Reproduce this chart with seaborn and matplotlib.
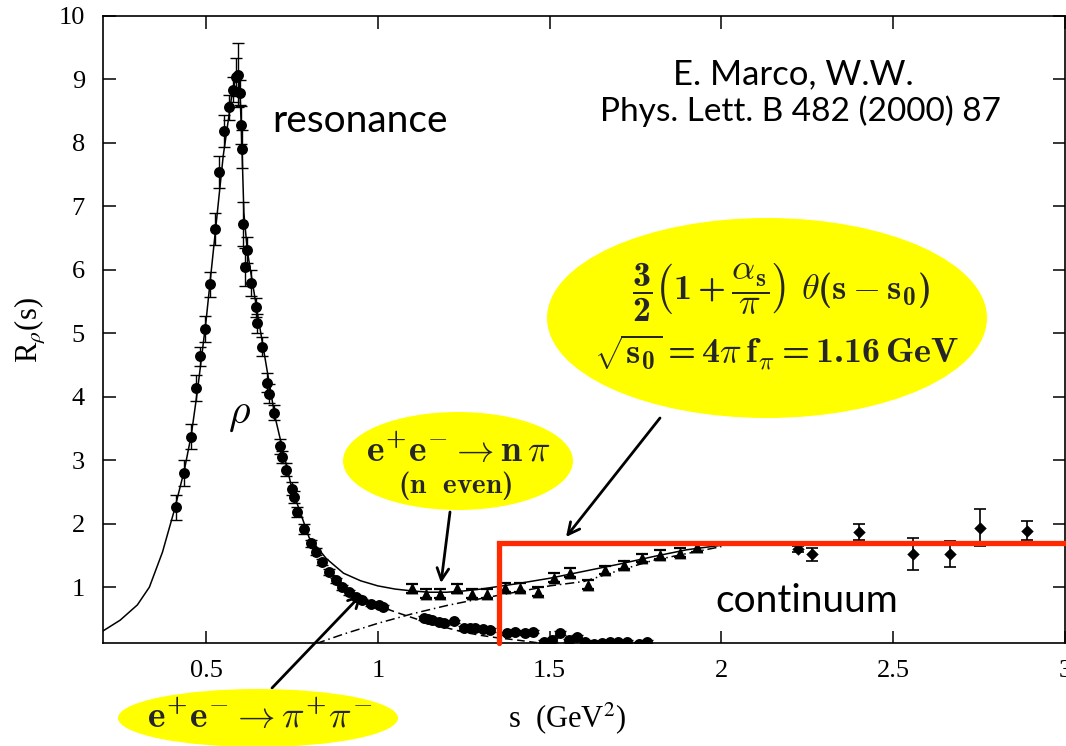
import numpy as np
import pandas as pd
import matplotlib
matplotlib.use('Agg')
import matplotlib.pyplot as plt
import seaborn as sns
from matplotlib.patches import Ellipse

# ---------------- data ----------------
# e+e- -> pi+ pi- data (circles)
pipi_s = [0.413, 0.437, 0.457, 0.470, 0.483, 0.497, 0.512, 0.525, 0.538, 0.553,
          0.567, 0.579, 0.588, 0.594, 0.598, 0.603, 0.604, 0.608, 0.613, 0.620,
          0.630, 0.646, 0.649, 0.664, 0.678, 0.683, 0.698, 0.715, 0.722, 0.732,
          0.751, 0.756, 0.765, 0.785, 0.804, 0.819, 0.838, 0.858, 0.877, 0.896,
          0.915, 0.935, 0.954, 0.979, 1.003, 1.015,
          1.134, 1.147, 1.158, 1.177, 1.192, 1.221, 1.250, 1.267, 1.284, 1.305,
          1.325, 1.376, 1.400, 1.429, 1.453, 1.483, 1.507, 1.531, 1.555, 1.580,
          1.604, 1.628, 1.652, 1.676, 1.700, 1.725, 1.759, 1.783]
pipi_R = [2.26, 2.80, 3.37, 4.14, 4.64, 5.07, 5.77, 6.64, 7.54, 8.19,
          8.56, 8.84, 9.04, 9.07, 8.79, 8.28, 7.90, 6.72, 6.05, 6.31,
          5.79, 5.41, 5.16, 4.79, 4.22, 4.05, 3.75, 3.22, 3.05, 2.85,
          2.55, 2.42, 2.19, 1.92, 1.69, 1.56, 1.40, 1.24, 1.11, 1.00,
          0.92, 0.85, 0.79, 0.74, 0.72, 0.69,
          0.51, 0.50, 0.48, 0.45, 0.43, 0.46, 0.36, 0.36, 0.35, 0.34,
          0.33, 0.27, 0.30, 0.28, 0.30, 0.14, 0.17, 0.28, 0.16, 0.22,
          0.14, 0.10, 0.12, 0.13, 0.13, 0.13, 0.11, 0.14]
pipi_err = [0.20, 0.20, 0.20, 0.20, 0.15, 0.20, 0.20, 0.25, 0.25, 0.25,
            0.20, 0.20, 0.30, 0.50, 0.20, 0.30, 0.30, 0.35, 0.30, 0.20,
            0.20, 0.15, 0.15, 0.15, 0.15, 0.15, 0.12, 0.12, 0.10, 0.10,
            0.10, 0.10, 0.08, 0.08, 0.06, 0.05, 0.05, 0.05, 0.04, 0.04,
            0.04, 0.03, 0.03, 0.03, 0.03, 0.03,
            0.03, 0.03, 0.03, 0.03, 0.03, 0.03, 0.03, 0.03, 0.03, 0.03,
            0.03, 0.03, 0.03, 0.03, 0.03, 0.03, 0.03, 0.03, 0.03, 0.03,
            0.03, 0.03, 0.03, 0.03, 0.03, 0.03, 0.03, 0.03]

# e+e- -> n pi (n even) data (triangles)
npi_s = [1.100, 1.140, 1.182, 1.230, 1.274, 1.318, 1.369, 1.415, 1.465, 1.512,
         1.560, 1.611, 1.662, 1.715, 1.768, 1.822, 1.878, 1.930]
npi_R = [0.98, 0.90, 0.90, 0.98, 0.90, 0.90, 0.99, 0.99, 0.93, 1.15,
         1.23, 1.04, 1.27, 1.35, 1.46, 1.51, 1.54, 1.63]
npi_err = [0.07] * len(npi_s)

# high-energy data (diamonds)
hi_s = [2.224, 2.265, 2.399, 2.559, 2.665, 2.752, 2.890]
hi_R = [1.60, 1.52, 1.87, 1.52, 1.52, 1.94, 1.89]
hi_err = [0.05, 0.10, 0.12, 0.25, 0.20, 0.29, 0.15]

# full fit curve (solid)
fit_s = [0.20, 0.25, 0.30, 0.335, 0.373, 0.407, 0.437, 0.457, 0.475, 0.50,
         0.525, 0.55, 0.575, 0.59, 0.597, 0.603, 0.61, 0.62, 0.65, 0.70,
         0.75, 0.80, 0.85, 0.90, 0.95, 1.00, 1.05, 1.10, 1.15, 1.20,
         1.25, 1.30, 1.35, 1.40, 1.50, 1.60, 1.70, 1.80, 1.90, 2.00]
fit_R = [0.31, 0.48, 0.72, 1.00, 1.55, 2.20, 2.85, 3.40, 4.10, 5.20,
         6.50, 7.80, 8.75, 9.10, 9.00, 8.20, 6.90, 6.30, 5.30, 3.70,
         2.55, 1.78, 1.45, 1.22, 1.10, 1.02, 0.97, 0.94, 0.92, 0.92,
         0.94, 0.97, 1.01, 1.05, 1.14, 1.25, 1.36, 1.48, 1.59, 1.66]

# resonance-only tail (dashed)
res_s = [0.85, 0.90, 0.95, 1.00, 1.05, 1.10, 1.15, 1.20, 1.25, 1.30, 1.35, 1.40, 1.47]
res_R = [1.28, 1.00, 0.83, 0.71, 0.61, 0.52, 0.43, 0.36, 0.29, 0.24, 0.20, 0.17, 0.12]

# continuum part (dash-dot)
cont_s = [0.82, 0.90, 1.00, 1.10, 1.20, 1.30, 1.40, 1.50, 1.60, 1.70, 1.80, 1.90, 2.00]
cont_R = [0.11, 0.26, 0.43, 0.58, 0.71, 0.82, 0.92, 1.02, 1.09, 1.26, 1.42, 1.53, 1.64]

# pQCD continuum step (red)
step_s = [1.352, 1.352, 3.0]
step_R = [0.12, 1.693, 1.693]

xticks = [0.5, 1.0, 1.5, 2.0, 2.5, 3.0]
xtick_labels = ['0.5', '1', '1.5', '2', '2.5', '3']
yticks = [1, 2, 3, 4, 5, 6, 7, 8, 9, 10]
ytick_labels = [str(v) for v in yticks]

# ---------------- figure ----------------
sns.set_theme(style='ticks')
plt.rcParams['font.family'] = ['Liberation Serif', 'DejaVu Serif']
plt.rcParams['mathtext.fontset'] = 'stix'
# custom math fonts (Computer Modern, bold = cmb10) for the yellow labels
plt.rcParams['mathtext.rm'] = 'cmr10'
plt.rcParams['mathtext.it'] = 'cmmi10'
plt.rcParams['mathtext.bf'] = 'cmb10'
plt.rcParams['mathtext.cal'] = 'cmsy10'
plt.rcParams['mathtext.fallback'] = 'cm'

W, H = 1066, 746
fig = plt.figure(figsize=(W / 100, H / 100), dpi=100)
fig.patch.set_facecolor('white')
ax = fig.add_axes([103 / W, 1 - 643 / H, (1065 - 103) / W, (643 - 16) / H])
ax.set_facecolor('white')

sns.lineplot(x=fit_s, y=fit_R, ax=ax, color='black', lw=1.1, estimator=None, sort=False)
sns.lineplot(x=res_s, y=res_R, ax=ax, color='black', lw=1.1, linestyle=(0, (5, 3)),
             estimator=None, sort=False)
sns.lineplot(x=cont_s, y=cont_R, ax=ax, color='black', lw=1.1,
             linestyle=(0, (6, 2.5, 1, 2.5)), estimator=None, sort=False)

ax.errorbar(pipi_s, pipi_R, yerr=pipi_err, fmt='none', ecolor='black',
            elinewidth=1.0, capsize=4.5, capthick=1.0, zorder=3)
ax.errorbar(npi_s, npi_R, yerr=npi_err, fmt='none', ecolor='black',
            elinewidth=1.0, capsize=4.5, capthick=1.6, zorder=3)
ax.errorbar(hi_s, hi_R, yerr=hi_err, fmt='none', ecolor='black',
            elinewidth=1.2, capsize=4.5, capthick=1.2, zorder=3)

sns.scatterplot(x=pipi_s, y=pipi_R, ax=ax, marker='o', s=62, color='black',
                edgecolor='black', linewidth=0, zorder=4)
sns.scatterplot(x=npi_s, y=npi_R, ax=ax, marker='^', s=72, color='black',
                edgecolor='black', linewidth=0, zorder=4)
sns.scatterplot(x=hi_s, y=hi_R, ax=ax, marker='D', s=40, color='black',
                edgecolor='black', linewidth=0, zorder=4)

sns.lineplot(x=step_s, y=step_R, ax=ax, color='#FF2A00', lw=3.8, estimator=None,
             sort=False, zorder=5)
for ln in ax.lines[-1:]:
    ln.set_solid_joinstyle('miter')
    ln.set_clip_on(False)

ax.set_xlim(0.2, 3.0)
ax.set_ylim(0.12, 10)
ax.set_xticks(xticks)
ax.set_xticklabels(xtick_labels)
ax.set_yticks(yticks)
ax.set_yticklabels(ytick_labels)
ax.tick_params(direction='in', length=9, width=1.1, top=True, right=True,
               labelsize=19, colors='black')
ax.tick_params(axis='y', pad=13)
ax.tick_params(axis='x', pad=12)
for sp in ax.spines.values():
    sp.set_visible(True)
    sp.set_color('black')
    sp.set_linewidth(1.2)
ax.grid(False)
ax.set_xlabel('')
ax.set_ylabel('')
if ax.get_legend() is not None:
    ax.get_legend().remove()

# axis labels
fig.text(30 / W, 1 - 330 / H, r'R$_\rho$(s)', rotation=90, ha='center', va='center',
         fontsize=22, color='black')
fig.text(567 / W, 1 - 718 / H, r's  (GeV$^2$)', ha='center', va='center',
         fontsize=22, color='black')

# annotation texts
sans = ['Lato', 'DejaVu Sans']
fig.text(272 / W, 1 - 132 / H, 'resonance', family=sans, fontsize=28,
         ha='left', va='baseline', color='black')
fig.text(793 / W, 1 - 74 / H, 'E. Marco, W.W.', family=sans, fontsize=25,
         ha='center', va='center', color='black')
fig.text(800 / W, 1 - 111 / H, 'Phys. Lett. B 482 (2000) 87', family=sans, fontsize=24,
         ha='center', va='center', color='black')
fig.text(807 / W, 1 - 612 / H, 'continuum', family=sans, fontsize=28,
         ha='center', va='baseline', color='black')
fig.text(240 / W, 1 - 415 / H, r'$\rho$', math_fontfamily='cm', fontsize=30,
         ha='center', va='center', color='black')

# yellow ellipses
yellow = '#FFFF00'
for cx, cy, w, h in [(767, 318, 440, 200), (458, 461, 230, 98), (258, 718, 280, 58)]:
    fig.add_artist(Ellipse((cx / W, 1 - cy / H), w / W, h / H, transform=fig.transFigure,
                           facecolor=yellow, edgecolor='none', zorder=6))

mf = 'custom'
fig.text(781 / W, 1 - 292 / H,
         r'$\mathbf{\dfrac{3}{2}\left(1+\dfrac{\alpha_s}{\pi}\right)\ \theta(s-s_0)}$',
         math_fontfamily=mf, fontsize=26, ha='center', va='center', zorder=7)
fig.text(776 / W, 1 - 352 / H,
         r'$\mathbf{\sqrt{s_0}=4\pi\,f_\pi=1.16\,GeV}$',
         math_fontfamily=mf, fontsize=26, ha='center', va='center', zorder=7)
fig.text(458 / W, 1 - 452 / H, r'$\mathbf{e^{+}e^{-}\rightarrow n\,\pi}$',
         math_fontfamily=mf, fontsize=27, ha='center', va='center', zorder=7)
fig.text(455 / W, 1 - 486 / H, r'$\mathbf{(n\ \ even)}$',
         math_fontfamily=mf, fontsize=21, ha='center', va='center', zorder=7)
fig.text(260 / W, 1 - 718 / H, r'$\mathbf{e^{+}e^{-}\rightarrow\pi^{+}\pi^{-}}$',
         math_fontfamily=mf, fontsize=27, ha='center', va='center', zorder=7)

# arrows
arrow_kw = dict(arrowstyle='->,head_length=0.7,head_width=0.35', lw=2.0, color='black',
                shrinkA=0, shrinkB=0)
for (x1, y1), (x2, y2) in [((450, 512), (441, 583)), ((660, 418), (566, 537)),
                            ((272, 688), (362, 594))]:
    ax.annotate('', xy=(x2, H - y2), xytext=(x1, H - y1), xycoords='figure pixels',
                textcoords='figure pixels', arrowprops=arrow_kw, annotation_clip=False,
                zorder=8)

fig.savefig('out.png', dpi=100, facecolor='white')
